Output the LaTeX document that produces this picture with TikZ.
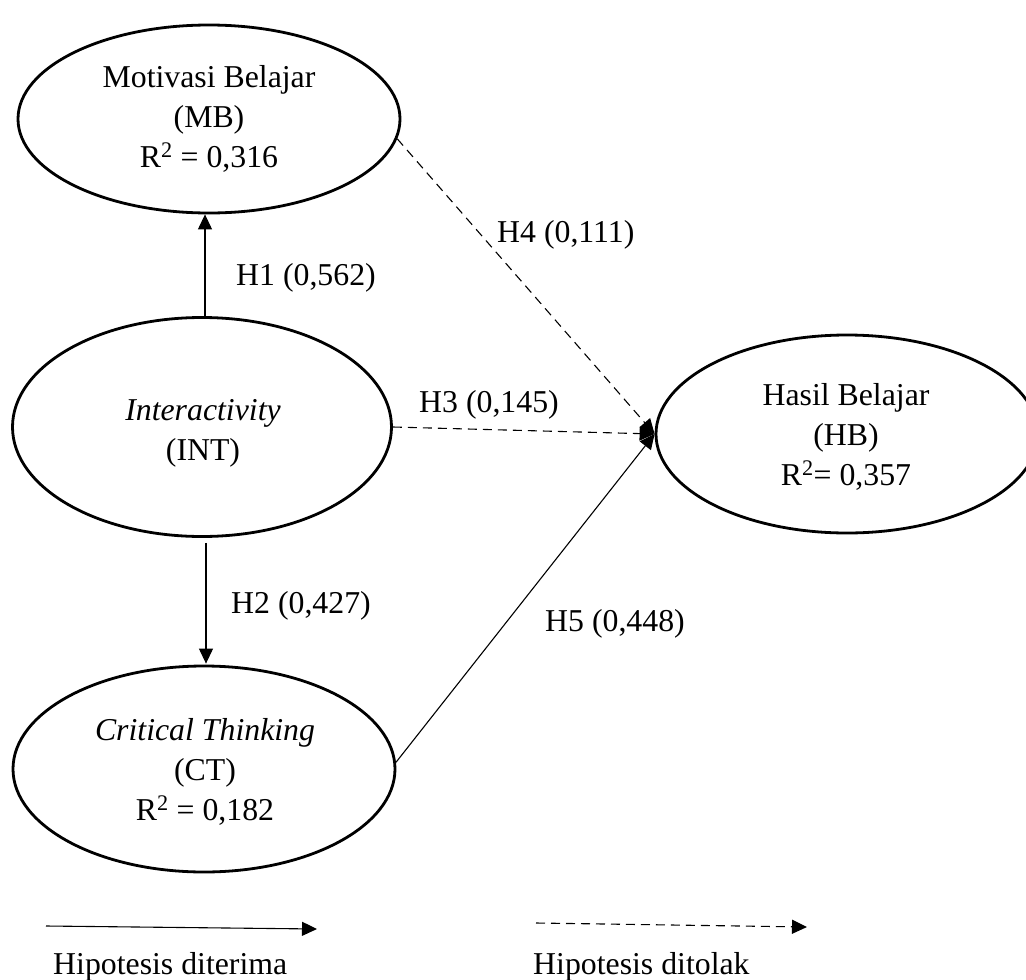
\documentclass[tikz,border=0pt]{standalone}
\usepackage{fontspec}
\setmainfont{Liberation Serif}
\usetikzlibrary{shapes.geometric,arrows.meta}
\begin{document}
\begin{tikzpicture}[x=1pt,y=-1pt,
  lat/.style={draw, ellipse, line width=2.8pt, inner sep=0pt},
  txt/.style={font=\fontsize{31.8}{40}\selectfont, align=center, anchor=base, inner sep=0pt},
  lbl/.style={font=\fontsize{31.8}{40}\selectfont, anchor=base west, inner sep=0pt},
  acc/.style={line width=1.1pt, -{Triangle[length=15pt,width=14pt]}},
  rej/.style={acc, dash pattern=on 9pt off 6pt},
]
\useasboundingbox (0,0) rectangle (1026,980);
% latent variables
\node[lat, minimum width=382pt, minimum height=188pt] (MB) at (209,119) {};
\node[lat, minimum width=379pt, minimum height=219pt] (INT) at (202,427) {};
\node[lat, minimum width=382pt, minimum height=206pt] (CT) at (204,769) {};
\node[lat, minimum width=382pt, minimum height=198pt] (HB) at (847,434) {};
% texts (base = baseline of the last line)
\node[txt] (MBt) at (209,167) {Motivasi Belajar\\(MB)\\R\textsuperscript{2} = 0,316};
\node[txt] (INTt) at (203,460) {\textit{Interactivity}\\(INT)};
\node[txt] (CTt) at (205,820) {\textit{Critical Thinking}\\(CT)\\R\textsuperscript{2} = 0,182};
\node[txt] (HBt) at (846,485) {Hasil Belajar\\(HB)\\R\textsuperscript{2}= 0,357};
% connectors
\coordinate (h1a) at ([xshift=3pt]INT.north);
\draw[acc] (h1a) -- (h1a |- MB.south);
\coordinate (h2a) at ([shift={(4,5)}]INT.south);
\draw[acc, shorten >=1pt] (h2a) -- (h2a |- CT.north);
\draw[rej] (INT.east) -- (HB.west);
\draw[rej] (MB.-6) -- (HB.west);
\draw[acc] (CT.2) -- (HB.west);
% path labels
\node[lbl] (l1) at (236,285) {H1 (0,562)};
\node[lbl] (l4) at (497,242) {H4 (0,111)};
\node[lbl] (l3) at (419,412) {H3 (0,145)};
\node[lbl] (l2) at (231,613) {H2 (0,427)};
\node[lbl] (l5) at (545,631) {H5 (0,448)};
% legend
\coordinate (la1) at (46,926);
\coordinate (la2) at (317,929);
\draw[acc] (la1) -- (la2);
\coordinate (lb1) at (536,923);
\coordinate (lb2) at (807,927);
\draw[rej] (lb1) -- (lb2);
\node[lbl] (lt1) at (53,974) {Hipotesis diterima};
\node[lbl] (lt2) at (533,974) {Hipotesis ditolak};
\end{tikzpicture}
\end{document}
